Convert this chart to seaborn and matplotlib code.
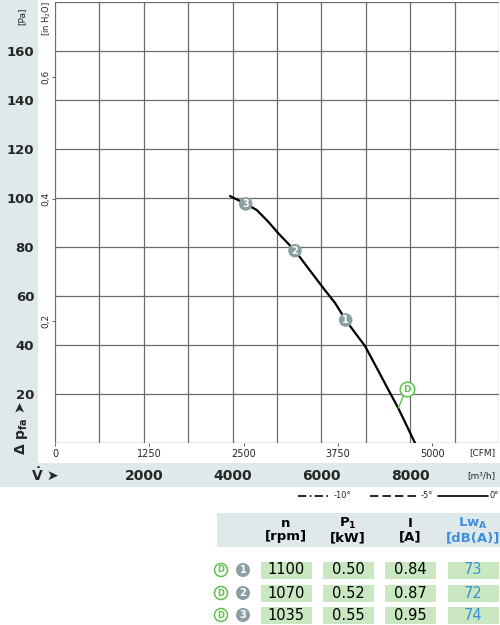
"""
Fan characteristic curve: pressure vs. air flow, with the operating table below.
"""
import matplotlib.pyplot as plt
import matplotlib.patches as mpatches
import seaborn as sns
import pandas as pd

sns.set_style('white')
plt.rcParams['font.family'] = ['DejaVu Sans']
plt.rcParams['mathtext.default'] = 'regular'

# curve (m3/h, Pa)
flow_m3h = [3941, 4295, 4543, 4804, 5029, 5405, 5705, 6065, 6306, 6547,
            6757, 6982, 7245, 7471, 7732, 8108]
dp_pa = [100.8, 97.6, 95.1, 90.3, 85.6, 78.5, 71.3, 62.7, 57.2, 50.2,
         45.0, 39.6, 30.7, 23.0, 14.2, 0.0]

# operating points on the curve
op_labels = ['1', '2', '3']
op_flow = [6547, 5405, 4295]
op_dp = [50.2, 78.5, 97.6]

# "D" marker and where its leader touches the curve
d_label_pos = (7921, 22.0)
d_curve_pos = (7732, 14.2)

pa_ticks = [20, 40, 60, 80, 100, 120, 140, 160]
inh2o_ticks = [0.2, 0.4, 0.6]
cfm_ticks = [0, 1250, 2500, 3750, 5000]
m3h_ticks = [2000, 4000, 6000, 8000]

# operating table
speed_rpm = [1100, 1070, 1035]
power_kw = ['0.50', '0.52', '0.55']
current_a = ['0.84', '0.87', '0.95']
lwa_db = [73, 72, 74]

BAND = '#dfe8ea'
GRID = '#6a6a6a'
MARK = '#8a9ea3'
GREEN = '#5cc24a'
CELL = '#c9e7c1'
BLUE = '#3d8fdc'

fig = plt.figure(figsize=(5, 6.25), dpi=100)

# background layer in pixel coordinates
bg = fig.add_axes([0, 0, 1, 1], zorder=0)
bg.set_xlim(0, 500)
bg.set_ylim(625, 0)
bg.axis('off')
bg.add_patch(mpatches.Rectangle((0, 0), 38, 463, color=BAND, lw=0))
bg.add_patch(mpatches.Rectangle((0, 463), 500, 24, color=BAND, lw=0))

# main chart
ax = fig.add_axes([0.11, 0.2912, 0.888, 0.7056], zorder=1)
curve = pd.DataFrame({'flow': flow_m3h, 'dp': dp_pa})
sns.lineplot(data=curve, x='flow', y='dp', ax=ax, color='black', lw=1.6, sort=False, zorder=3)
pts = pd.DataFrame({'flow': op_flow, 'dp': op_dp, 'lab': op_labels})
sns.scatterplot(data=pts, x='flow', y='dp', ax=ax, s=95, color=MARK, edgecolor='none', zorder=4)
for _, r in pts.iterrows():
    ax.text(r['flow'], r['dp'], r['lab'], color='white', fontsize=7, fontweight='bold',
            ha='center', va='center', zorder=5)

ax.plot([d_curve_pos[0], d_label_pos[0] - 60], [d_curve_pos[1], d_label_pos[1] - 2.2],
        color=GREEN, lw=1, zorder=4)
ax.scatter([d_label_pos[0]], [d_label_pos[1]], s=110, facecolor='white', edgecolor=GREEN,
           lw=1.1, zorder=5)
ax.text(d_label_pos[0], d_label_pos[1], 'D', color=GREEN, fontsize=6.5, fontweight='bold',
        ha='center', va='center', zorder=6)

ax.set_xlim(0, 10000)
ax.set_ylim(0, 180)
ax.set_xticks(range(0, 10001, 1000))
ax.set_xticklabels([])
ax.set_yticks(range(0, 181, 20))
ax.set_yticklabels(['' if v not in pa_ticks else str(v) for v in range(0, 181, 20)],
                   fontsize=9.5, fontweight='bold')
ax.tick_params(axis='both', length=0)
ax.tick_params(axis='y', pad=15)
ax.grid(True, color=GRID, lw=0.9)
ax.set_axisbelow(True)
for s in ax.spines.values():
    s.set_visible(False)
ax.set_xlabel('')
ax.set_ylabel('')

# inch water column scale
sec_y = ax.secondary_yaxis('left', functions=(lambda p: p / 249.09, lambda w: w * 249.09))
sec_y.set_yticks(inh2o_ticks)
sec_y.set_yticklabels([f'{v:.1f}'.replace('.', ',') for v in inh2o_ticks],
                      rotation=90, va='center', fontsize=6.5)
sec_y.tick_params(length=2.5, width=0.6, pad=1, color='#444444')
sec_y.spines['left'].set_visible(False)

# CFM scale
sec_cfm = ax.secondary_xaxis('bottom', functions=(lambda q: q / 1.699, lambda c: c * 1.699))
sec_cfm.set_xticks(cfm_ticks)
sec_cfm.set_xticklabels([str(v) for v in cfm_ticks], fontsize=7)
sec_cfm.tick_params(length=2, width=0.6, pad=2, color='#444444')
sec_cfm.spines['bottom'].set_visible(False)

# m3/h scale in the band
sec_m3 = ax.secondary_xaxis(-0.058)
sec_m3.set_xticks(m3h_ticks)
sec_m3.set_xticklabels([str(v) for v in m3h_ticks], fontsize=10, fontweight='bold')
sec_m3.tick_params(length=0, pad=0)
sec_m3.spines['bottom'].set_visible(False)

# unit and axis labels
bg.text(482, 453, '[CFM]', fontsize=6.5, ha='center', va='center')
bg.text(481, 476, '[m³/h]', fontsize=6.5, ha='center', va='center')
bg.text(22, 16, '[Pa]', fontsize=6.5, rotation=90, ha='center', va='center')
bg.text(47, 18, '[in H$_2$O]', fontsize=6, rotation=90, ha='center', va='center')
bg.text(22, 428, 'Δ p$_{fa}$ ➤', fontsize=10, fontweight='bold', rotation=90,
        ha='center', va='center')
bg.text(45, 475, r'$\mathbf{\dot{V}}$ ➤', fontsize=10, fontweight='bold',
        ha='center', va='center')

# line style legend
bg.plot([298, 331], [496, 496], color='black', lw=1.2, ls=(0, (5, 2, 1, 2)))
bg.text(334, 496, '-10°', fontsize=6, va='center')
bg.plot([370, 418], [496, 496], color='black', lw=1.2, ls=(0, (5, 2.5)))
bg.text(421, 496, '-5°', fontsize=6, va='center')
bg.plot([438, 488], [496, 496], color='black', lw=1.2)
bg.text(489, 496, '0°', fontsize=6, va='center')

# table
bg.add_patch(mpatches.Rectangle((217, 513), 283, 34, color=BAND, lw=0))
col_x = [286, 348, 410, 473]
headers = ['n\n[rpm]', 'P$_1$\n[kW]', 'I\n[A]', 'Lw$_A$\n[dB(A)]']
for j, h in enumerate(headers):
    bg.text(col_x[j], 530, h, fontsize=9.5, fontweight='bold', ha='center', va='center',
            linespacing=1.0, color=BLUE if j == 3 else 'black')

row_y = [570, 593, 615]
for i, y in enumerate(row_y):
    bg.add_patch(mpatches.Circle((221, y), 6.5, facecolor='white', edgecolor=GREEN, lw=1.1))
    bg.text(221, y, 'D', color=GREEN, fontsize=6, fontweight='bold', ha='center', va='center')
    bg.add_patch(mpatches.Circle((243, y), 7, color=MARK, lw=0))
    bg.text(243, y, str(i + 1), color='white', fontsize=7, fontweight='bold',
            ha='center', va='center')
    vals = [str(speed_rpm[i]), power_kw[i], current_a[i], str(lwa_db[i])]
    for j, v in enumerate(vals):
        bg.add_patch(mpatches.Rectangle((col_x[j] - 25.5, y - 8.5), 51, 17, color=CELL, lw=0))
        bg.text(col_x[j], y, v, fontsize=10.5, ha='center', va='center',
                color=BLUE if j == 3 else 'black')

fig.savefig('out.png', dpi=100)
